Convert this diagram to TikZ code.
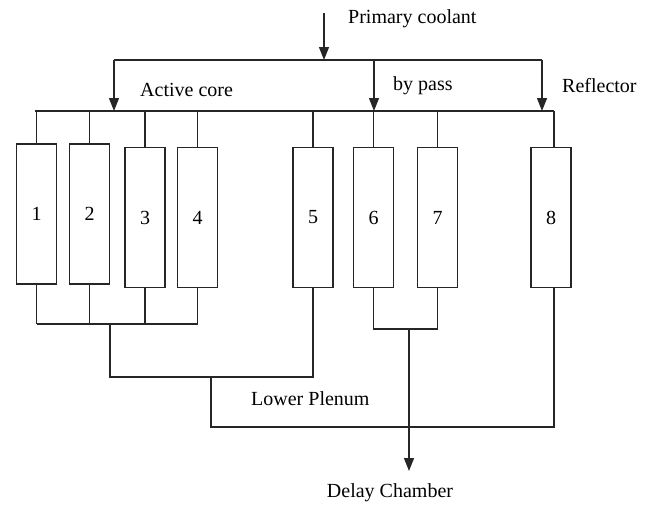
\documentclass[tikz,border=0pt]{standalone}
\usepackage{fontspec}
\setmainfont{Liberation Serif}
\usetikzlibrary{arrows.meta}

\begin{document}
\begin{tikzpicture}[x=1pt, y=-1pt, font=\fontsize{20}{24}\selectfont]
   \tikzstyle{chan} = [rectangle, draw=black!85, line width=1.4pt,
                       minimum width=40pt, minimum height=140pt,
                       inner sep=0pt];
   \tikzstyle{lbl} = [anchor=west, inner sep=0pt];
   \tikzstyle{ln} = [black!85, line width=1.4pt, -];
   \tikzstyle{arr} = [black!85, line width=1.4pt,
                      -{Triangle[length=13pt, width=10pt]}];

    \useasboundingbox (0,0) rectangle (650,504);

    % fuel channels
    \node[chan] (c1) at (36.5,214){1};
    \node[chan] (c2) at (89.5,214){2};
    \node[chan] (c3) at (145,217.5){3};
    \node[chan] (c4) at (197.5,217.5){4};
    \node[chan] (c5) at (313,217.5){5};
    \node[chan] (c6) at (373.5,217.5){6};
    \node[chan] (c7) at (437.5,217.5){7};
    \node[chan] (c8) at (551,217.5){8};

    % labels
    \node[lbl] (pc) at (348,19){Primary coolant};
    \node[lbl] (ac) at (140,90){Active core};
    \node[lbl] (bp) at (393,86){by pass};
    \node[lbl] (rf) at (562,86){Reflector};
    \node[lbl] (lp) at (251,399){Lower Plenum};
    \node (dc) at (390,493){Delay Chamber};

    % inlet and distribution
    \coordinate (in) at (324,13);
    \coordinate (t0) at (324,60);
    \coordinate (t1) at (114,60);
    \coordinate (t2) at (374,60);
    \coordinate (t3) at (542,60);
    \coordinate (hl) at (35,111);
    \coordinate (hr) at (554,111);

    \path[arr] (in) edge (t0);
    \path[ln] (t1) edge (t3);
    \path[arr] (t1) edge (t1 |- hl);
    \path[arr] (t2) edge (t2 |- hl);
    \path[arr] (t3) edge (t3 |- hl);
    \path[ln] (hl) edge (hr);

    \path[ln] (c1.north |- hl) edge (c1.north);
    \path[ln] (c2.north |- hl) edge (c2.north);
    \path[ln] (c3.north |- hl) edge (c3.north);
    \path[ln] (c4.north |- hl) edge (c4.north);
    \path[ln] (c5.north |- hl) edge (c5.north);
    \path[ln] (c6.north |- hl) edge (c6.north);
    \path[ln] (c7.north |- hl) edge (c7.north);
    \path[ln] (hr) edge (hr |- c8.north);

    % lower plenum
    \coordinate (l1) at (36.5,324);
    \coordinate (m1) at (110,324);
    \coordinate (m2) at (110,377);
    \coordinate (p1) at (211,377);
    \coordinate (p2) at (211,427);

    \path[ln] (c1.south) edge (l1);
    \path[ln] (c2.south) edge (c2.south |- l1);
    \path[ln] (c3.south) edge (c3.south |- l1);
    \path[ln] (c4.south) edge (c4.south |- l1);
    \path[ln] (l1) edge (c4.south |- l1);

    \draw[ln] (m1) -- (m2) -- (c5.south |- m2) -- (c5.south);
    \draw[ln] (p1) -- (p2) -- (hr |- p2) -- (hr |- c8.south);

    % by pass to delay chamber
    \coordinate (q) at (409,329);
    \coordinate (dt) at (409,471);
    \draw[ln] (c6.south) |- (q) -| (c7.south);
    \path[arr] (q) edge (dt);

\end{tikzpicture}
\end{document}
